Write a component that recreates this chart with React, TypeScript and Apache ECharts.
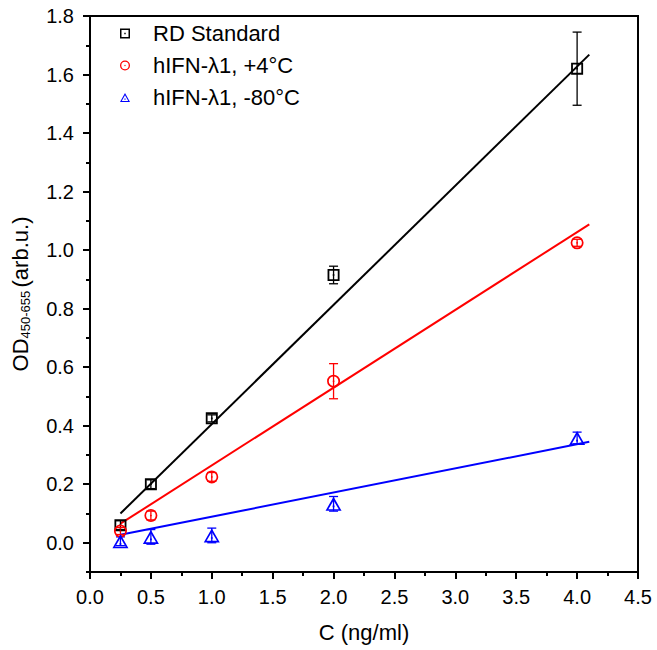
import React, { useEffect, useRef } from "react";
import * as echarts from "echarts";

const concentrations = [0.25, 0.5, 1.0, 2.0, 4.0];
const rdValues = [0.06, 0.2, 0.425, 0.915, 1.62];
const rdErrors = [0.015, 0.015, 0.012, 0.03, 0.125];
const plus4Values = [0.04, 0.093, 0.225, 0.552, 1.025];
const plus4Errors = [0.012, 0.015, 0.015, 0.06, 0.012];
const minus80Values = [0.005, 0.02, 0.025, 0.133, 0.358];
const minus80Errors = [0.015, 0.025, 0.025, 0.025, 0.02];

// fitted line endpoints [x, y]
const rdFit = [[0.25, 0.1], [4.1, 1.668]];
const plus4Fit = [[0.25, 0.065], [4.1, 1.088]];
const minus80Fit = [[0.25, 0.027], [4.1, 0.345]];

const seriesNames = ["RD Standard", "hIFN-λ1, +4°C", "hIFN-λ1, -80°C"];
const yMajorTicks = [0, 0.2, 0.4, 0.6, 0.8, 1.0, 1.2, 1.4, 1.6, 1.8];

const SQUARE =
  "path://M0,0H10V10H0Z M1.5,1.5V8.5H8.5V1.5Z M4.3,4.3H5.7V5.7H4.3Z";
const CIRCLE =
  "path://M5,0A5,5 0 1 1 5,10A5,5 0 1 1 5,0Z M5,1.3A3.7,3.7 0 1 0 5,8.7A3.7,3.7 0 1 0 5,1.3Z M5,4.35A0.65,0.65 0 1 1 5,5.65A0.65,0.65 0 1 1 5,4.35Z";
const TRIANGLE =
  "path://M5,0L10,9L0,9Z M5,2.3L1.75,8L8.25,8Z M4.45,5.6H5.55V6.7H4.45Z";

const FONT = "'Liberation Sans', Arial, sans-serif";

function pts(values: number[]) {
  return concentrations.map((c, i) => [c, values[i]]);
}
function errPts(values: number[], errs: number[]) {
  return concentrations.map((c, i) => [c, values[i], errs[i]]);
}

function errorSeries(values: number[], errs: number[], color: string) {
  return {
    type: "custom",
    data: errPts(values, errs),
    z: 3,
    silent: true,
    renderItem: (params: any, api: any) => {
      const x = api.value(0);
      const y = api.value(1);
      const e = api.value(2);
      const top = api.coord([x, y + e]);
      const bot = api.coord([x, y - e]);
      const w = 4.5;
      const style = { stroke: color, lineWidth: 1.3 };
      return {
        type: "group",
        children: [
          { type: "line", shape: { x1: top[0], y1: top[1], x2: bot[0], y2: bot[1] }, style },
          { type: "line", shape: { x1: top[0] - w, y1: top[1], x2: top[0] + w, y2: top[1] }, style },
          { type: "line", shape: { x1: bot[0] - w, y1: bot[1], x2: bot[0] + w, y2: bot[1] }, style },
        ],
      };
    },
  };
}

function fitSeries(data: number[][], color: string) {
  return {
    type: "line",
    data,
    symbol: "none",
    z: 2,
    silent: true,
    lineStyle: { color, width: 2 },
  };
}

export default function App() {
  const ref = useRef<HTMLDivElement>(null);
  useEffect(() => {
    document.body.style.margin = "0";
    if (!ref.current) return;
    const chart = echarts.init(ref.current, undefined, { renderer: "svg" });
    chart.setOption({
      animation: false,
      backgroundColor: "#fff",
      grid: {
        left: 90,
        top: 16,
        right: 19,
        bottom: 78,
        show: true,
        borderColor: "#000",
        borderWidth: 2,
        containLabel: false,
      },
      legend: {
        left: 115,
        top: 16,
        orient: "vertical",
        itemGap: 7,
        itemWidth: 10,
        itemHeight: 10,
        data: seriesNames,
        textStyle: {
          fontFamily: FONT,
          fontSize: 22,
          color: "#000",
          padding: [0, 0, 0, 18],
          lineHeight: 25,
        },
      },
      xAxis: {
        type: "value",
        min: 0,
        max: 4.5,
        interval: 0.5,
        name: "C (ng/ml)",
        nameLocation: "middle",
        nameGap: 49,
        nameTextStyle: { fontFamily: FONT, fontSize: 22, color: "#000" },
        axisLine: { show: true, onZero: false, lineStyle: { color: "#000", width: 2 } },
        axisTick: { show: true, inside: false, length: 7, lineStyle: { color: "#000", width: 2 } },
        minorTick: { show: true, splitNumber: 2, length: 4, lineStyle: { color: "#000", width: 2 } },
        axisLabel: {
          margin: 15,
          fontFamily: FONT,
          fontSize: 20,
          color: "#000",
          formatter: (v: number) => v.toFixed(1),
        },
        splitLine: { show: false },
      },
      yAxis: [
        {
          type: "value",
          min: -0.1,
          max: 1.8,
          name: "{m|OD}{s|450-655} {m|(arb.u.)}",
          nameLocation: "middle",
          nameGap: 58,
          nameRotate: 90,
          nameTextStyle: {
            fontFamily: FONT,
            color: "#000",
            rich: {
              m: { fontFamily: FONT, fontSize: 22, color: "#000" },
              s: { fontFamily: FONT, fontSize: 13, color: "#000", padding: [10, 0, 0, 0] },
            },
          },
          axisLine: { show: true, onZero: false, lineStyle: { color: "#000", width: 2 } },
          axisTick: {
            show: true,
            inside: false,
            length: 7,
            customValues: yMajorTicks,
            lineStyle: { color: "#000", width: 2 },
          },
          axisLabel: {
            margin: 16,
            fontFamily: FONT,
            fontSize: 20,
            color: "#000",
            customValues: yMajorTicks,
            formatter: (v: number) => v.toFixed(1),
          },
          splitLine: { show: false },
        },
        {
          type: "value",
          min: -0.1,
          max: 1.8,
          interval: 0.1,
          position: "left",
          axisLine: { show: false },
          axisTick: { show: true, inside: false, length: 4, lineStyle: { color: "#000", width: 2 } },
          axisLabel: { show: false },
          splitLine: { show: false },
        },
      ],
      series: [
        fitSeries(rdFit, "#000"),
        fitSeries(plus4Fit, "#ff0000"),
        fitSeries(minus80Fit, "#0000ff"),
        errorSeries(rdValues, rdErrors, "#000"),
        errorSeries(plus4Values, plus4Errors, "#ff0000"),
        errorSeries(minus80Values, minus80Errors, "#0000ff"),
        {
          name: seriesNames[0],
          type: "scatter",
          data: pts(rdValues),
          symbol: SQUARE,
          symbolSize: [12, 12],
          itemStyle: { color: "#000", opacity: 1 },
          z: 5,
        },
        {
          name: seriesNames[1],
          type: "scatter",
          data: pts(plus4Values),
          symbol: CIRCLE,
          symbolSize: [13, 13],
          itemStyle: { color: "#ff0000", opacity: 1 },
          z: 5,
        },
        {
          name: seriesNames[2],
          type: "scatter",
          data: pts(minus80Values),
          symbol: TRIANGLE,
          symbolSize: [16, 14],
          itemStyle: { color: "#0000ff", opacity: 1 },
          z: 5,
        },
      ],
    });
    return () => chart.dispose();
  }, []);
  return <div ref={ref} style={{ width: 657, height: 650 }} />;
}
